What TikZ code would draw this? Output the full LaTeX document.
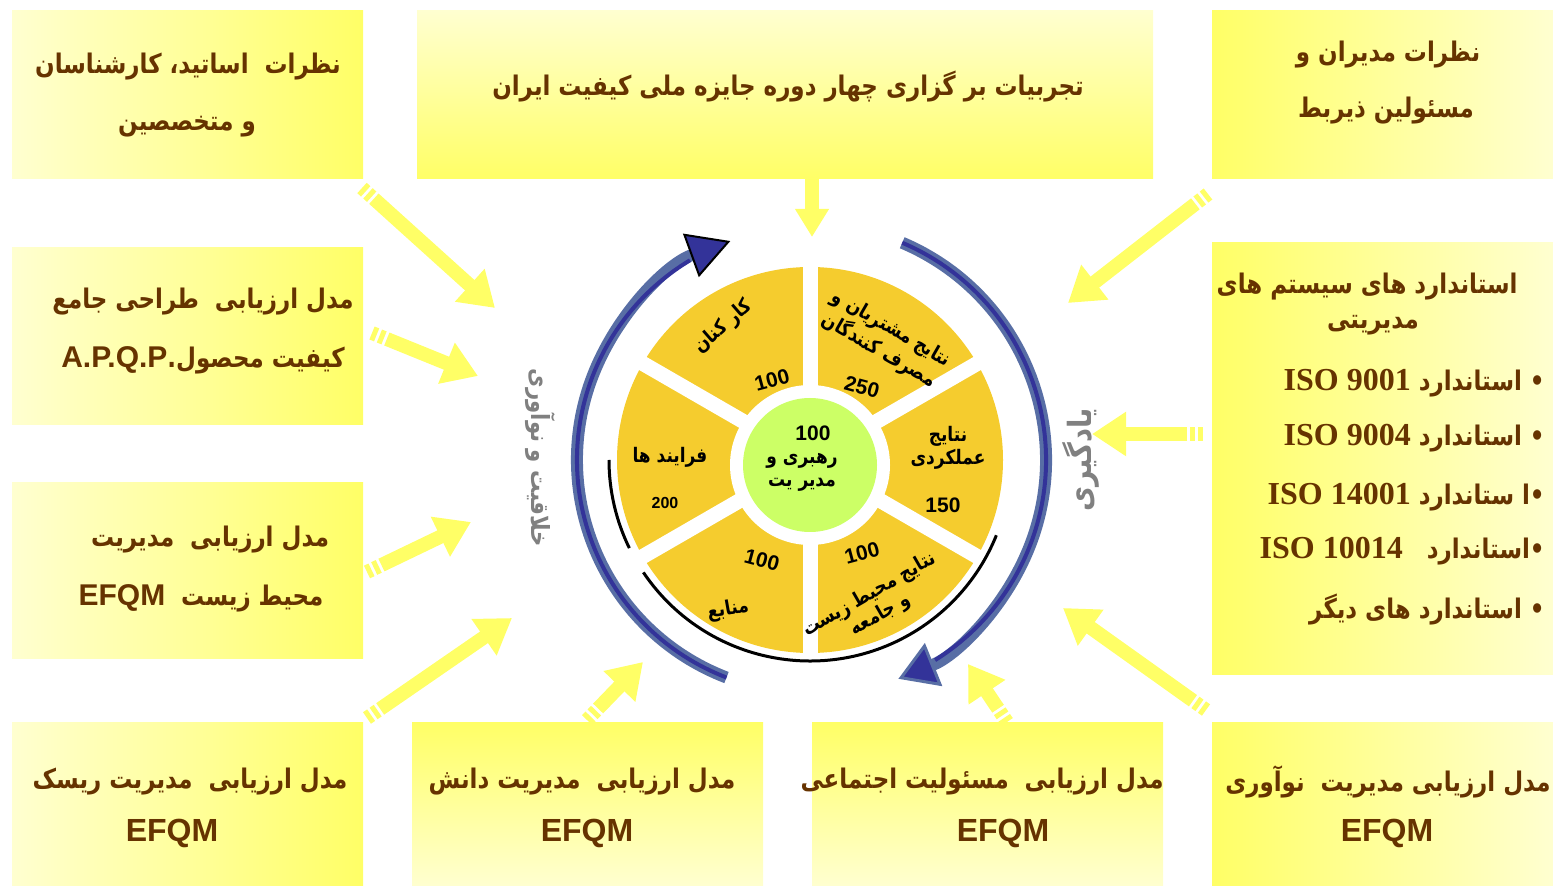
\documentclass[tikz,border=0pt]{standalone}
\usepackage{fontspec}
\setmainfont{Liberation Sans}
\newfontfamily\fa[Script=Arabic, FakeStretch=0.85]{DejaVu Sans}
\newfontfamily\tms{Liberation Serif}
\TeXXeTstate=1
\usetikzlibrary{arrows.meta}

\definecolor{ybright}{RGB}{255,255,102}
\definecolor{ylight}{RGB}{255,255,208}
\definecolor{brn}{RGB}{102,51,0}
\definecolor{wheelyel}{RGB}{245,204,46}
\definecolor{hubgreen}{RGB}{204,255,102}
\definecolor{bandblue}{RGB}{88,110,165}
\definecolor{darkblue}{RGB}{51,51,153}
\definecolor{labelgray}{RGB}{128,128,128}

\newcommand{\rtline}[1]{\beginR #1\endR}
\newcommand{\ltrword}[1]{\beginL #1\endL}

\tikzset{
  ybox/.style={inner sep=0pt, outer sep=0pt},
  boxtext/.style={font=\fa\bfseries\fontsize{13.5}{15}\selectfont, text=brn, inner sep=0pt},
  efqm/.style={font=\bfseries\fontsize{16}{18}\selectfont, text=brn, inner sep=0pt},
  isoline/.style={font=\fa\bfseries\fontsize{13.5}{15}\selectfont, text=brn, inner sep=0pt, anchor=east},
  wtext/.style={font=\fa\bfseries\fontsize{10}{11.5}\selectfont, align=center, inner sep=0pt},
  wnum/.style={font=\bfseries\fontsize{10.5}{12}\selectfont, inner sep=0pt},
  yarrow/.style={draw=ybright, line width=7pt, -{Triangle[length=17pt,width=21pt]},
    dash pattern=on 2.5pt off 1.5pt on 2.5pt off 1.5pt on 400pt off 1pt},
  sidelabel/.style={font=\fa\bfseries, text=labelgray, inner sep=0pt}
}

\begin{document}
\begin{tikzpicture}[x=0.5pt,y=-0.5pt]
\useasboundingbox (0,0) rectangle (1553,886);

% boxes
\node[ybox, minimum width=175.5pt, minimum height=84pt, left color=ylight, right color=ybright] (bTL) at (187.5,95) {};
\node[ybox, minimum width=368pt, minimum height=84pt, top color=ylight, bottom color=ybright] (bTC) at (785,95) {};
\node[ybox, minimum width=170.5pt, minimum height=84pt, left color=ybright, right color=ylight] (bTR) at (1382.5,95) {};
\node[ybox, minimum width=175.5pt, minimum height=88.5pt, left color=ylight, right color=ybright] (bAPQP) at (187.5,336.5) {};
\node[ybox, minimum width=175.5pt, minimum height=88pt, left color=ylight, right color=ybright] (bEnv) at (187.5,571) {};
\node[ybox, minimum width=170.5pt, minimum height=216pt, left color=ybright, right color=ylight] (bISO) at (1382.5,459) {};
\node[ybox, minimum width=175.5pt, minimum height=81.5pt, left color=ylight, right color=ybright] (bRisk) at (187.5,804.5) {};
\node[ybox, minimum width=175.5pt, minimum height=81.5pt, top color=ybright, bottom color=ylight] (bKnow) at (587.5,804.5) {};
\node[ybox, minimum width=175.5pt, minimum height=81.5pt, top color=ybright, bottom color=ylight] (bSoc) at (987.5,804.5) {};
\node[ybox, minimum width=170.5pt, minimum height=81.5pt, left color=ybright, right color=ylight] (bInno) at (1382.5,804.5) {};

% box texts
\node[boxtext] (tTL1) at (188,67) {\rtline{نظرات\ \ اساتید، کارشناسان}};
\node[boxtext] (tTL2) at (187,127) {\rtline{و متخصصین}};
\node[boxtext] (tTC) at (788,87) {\rtline{تجربیات بر گزاری چهار دوره جایزه ملی کیفیت ایران}};
\node[boxtext] (tTR1) at (1388,55) {\rtline{نظرات مدیران و}};
\node[boxtext] (tTR2) at (1386,111) {\rtline{مسئولین ذیربط}};
\node[boxtext] (tAPQP1) at (203,302) {\rtline{مدل ارزیابی\ \ طراحی جامع}};
\node[boxtext] (tAPQP2) at (203,360) {\rtline{کیفیت محصول.\ltrword{{\rmfamily\fontsize{15}{17}\selectfont A.P.Q.P}}}};
\node[boxtext] (tEnv1) at (210,540) {\rtline{مدل ارزیابی\ \ مدیریت}};
\node[boxtext] (tEnv2) at (201,598) {\rtline{محیط زیست\ \ \ltrword{{\rmfamily\fontsize{15}{17}\selectfont EFQM}}}};
\node[boxtext] (tRisk1) at (190,782) {\rtline{مدل ارزیابی\ \ مدیریت ریسک}};
\node[efqm] (tRisk2) at (172,833) {EFQM};
\node[boxtext] (tKnow1) at (582,782) {\rtline{مدل ارزیابی\ \ مدیریت دانش}};
\node[efqm] (tKnow2) at (587,833) {EFQM};
\node[boxtext] (tSoc1) at (982,782) {\rtline{مدل ارزیابی\ \ مسئولیت اجتماعی}};
\node[efqm] (tSoc2) at (1003,833) {EFQM};
\node[boxtext] (tInno1) at (1388,782) {\rtline{مدل ارزیابی مدیریت\ \ نوآوری}};
\node[efqm] (tInno2) at (1387,833) {EFQM};

\node[boxtext, anchor=east] (tISO1) at (1518,287) {\rtline{استاندارد های سیستم های}};
\node[boxtext] (tISO2) at (1373,325) {\rtline{مدیریتی}};
\node[isoline] (iso1) at (1545,383) {\rtline{• استاندارد \ltrword{{\tms\fontsize{16}{18}\selectfont ISO 9001}}}};
\node[isoline] (iso2) at (1545,438) {\rtline{• استاندارد \ltrword{{\tms\fontsize{16}{18}\selectfont ISO 9004}}}};
\node[isoline] (iso3) at (1545,497) {\rtline{•ا ستاندارد \ltrword{{\tms\fontsize{16}{18}\selectfont ISO 14001}}}};
\node[isoline] (iso4) at (1545,551) {\rtline{•استاندارد\ \ \ \ltrword{{\tms\fontsize{16}{18}\selectfont ISO 10014}}}};
\node[isoline] (iso5) at (1545,610) {\rtline{• استاندارد های دیگر}};

% yellow arrows
\coordinate (a1s) at (362,188);  \coordinate (a1e) at (495,308);
\coordinate (a2s) at (372,333);  \coordinate (a2e) at (478,376);
\coordinate (a3s) at (367,572);  \coordinate (a3e) at (471,522);
\coordinate (a4s) at (367,718);  \coordinate (a4e) at (512,618);
\coordinate (a5s) at (587,720);  \coordinate (a5e) at (643,662);
\coordinate (a6s) at (1007,722); \coordinate (a6e) at (968,664);
\coordinate (a7s) at (1206,710); \coordinate (a7e) at (1063,608);
\coordinate (a8s) at (1203,434); \coordinate (a8e) at (1092,434);
\coordinate (a9s) at (1208,194); \coordinate (a9e) at (1068,303);
\coordinate (a10e) at (812,237);
\foreach \n in {1,...,9}
  \draw[yarrow] (a\n s) -- (a\n e);
\draw[yarrow, solid, -{Triangle[length=14pt,width=16pt]}] (a10e |- bTC.south) -- (a10e);

% wheel
\begin{scope}[shift={(810,460)}, y=0.5pt]
  \fill[wheelyel] (0,0) circle[radius=193];
  \draw[line width=1.5pt] (180:201) arc[start angle=180, end angle=206, radius=201];
  \draw[line width=1.5pt] (214:201) arc[start angle=214, end angle=338, radius=201];
  \foreach \a in {30,90,...,330}
    \draw[white, line width=7.5pt] (0,0) -- (\a:197);
  \fill[white] (0,-5) circle[radius=80];
  \node[circle, fill=hubgreen, minimum size=67pt, inner sep=0pt] (hub) at (0,-5) {};

  \node[wnum] (hubnum) at (3,27) {100};
  \node[wtext] (hubtxt) at (-8,-12) {\rtline{رهبری و}\\\rtline{مدیر یت}};
  \node[wtext, rotate=41] (staff) at (-87,133) {\rtline{کار کنان}};
  \node[wnum, rotate=15] (staffnum) at (-38,80) {100};
  \node[wtext, rotate=-30] (cust) at (75,120) {\rtline{نتایج مشتریان و}\\\rtline{مصرف کنندگان}};
  \node[wnum, rotate=-15] (custnum) at (52,73) {250};
  \node[wtext] (perf) at (138,12) {\rtline{نتایج}\\\rtline{عملکردی}};
  \node[wnum] (perfnum) at (133,-45) {150};
  \node[wnum, rotate=15] (socnum) at (52,-93) {100};
  \node[wtext, rotate=30] (soc) at (65,-145) {\rtline{نتایج محیط زیست}\\\rtline{و جامعه}};
  \node[wnum, rotate=-15] (resnum) at (-48,-100) {100};
  \node[wtext, rotate=10] (res) at (-82,-150) {\rtline{منابع}};
  \node[wtext] (proc) at (-140,3) {\rtline{فرایند ها}};
  \node[wnum, font=\bfseries\fontsize{8}{10}\selectfont] (procnum) at (-145,-43) {200};

  % blue cycle arrows
  \draw[bandblue, line width=6pt, -{Triangle[length=21pt,width=23pt,line width=1pt,color=black,fill=darkblue]}]
    (249:233) arc[start angle=249, end angle=110, radius=233];
  \draw[darkblue, line width=2pt] (249:233) arc[start angle=249, end angle=121, radius=233];
  \draw[bandblue, line width=6pt, -{Triangle[length=19pt,width=23pt,line width=1.5pt,fill=darkblue]}]
    (67:236) arc[start angle=67, end angle=-68, radius=236];
  \draw[darkblue, line width=2pt] (67:236) arc[start angle=67, end angle=-58, radius=236];

  \node[sidelabel, font=\fa\bfseries\fontsize{12.5}{14}\selectfont, rotate=-90] (creat) at (-270,2) {\rtline{خلاقیت و نوآوری}};
  \node[sidelabel, font=\fa\bfseries\fontsize{16}{18}\selectfont, rotate=90] (learn) at (271,0) {\rtline{یادگیری}};
\end{scope}
\end{tikzpicture}
\end{document}
